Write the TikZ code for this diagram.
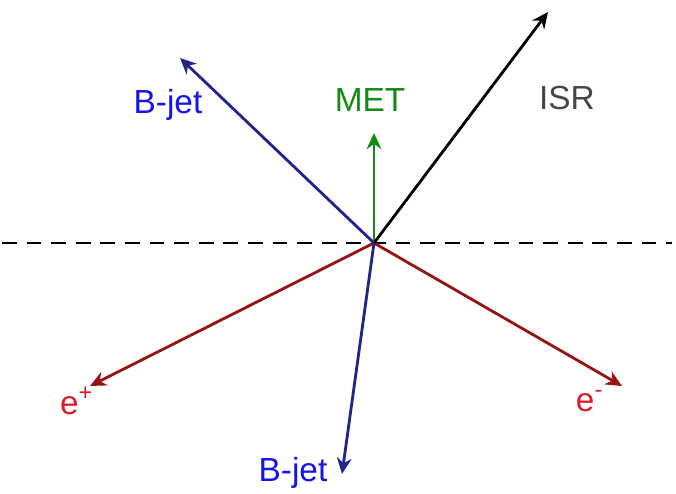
\documentclass[tikz,border=0pt]{standalone}
\usepackage{fontspec}
\setmainfont{Liberation Sans}
\usetikzlibrary{arrows.meta}

\definecolor{jetblue}{RGB}{35,35,140}
\definecolor{jettext}{RGB}{20,20,235}
\definecolor{metgreen}{RGB}{20,140,20}
\definecolor{lepred}{RGB}{150,20,20}
\definecolor{leptext}{RGB}{215,30,40}
\definecolor{isrgray}{RGB}{70,70,70}

\begin{document}
\begin{tikzpicture}[
        >={Stealth[length=4.6pt,width=4.2pt]},
        every node/.style={font=\fontsize{9.5}{11}\selectfont, inner sep=1pt},
        vec/.style={->, line width=0.8pt},
        axis/.style={dashed, dash pattern=on 4.2pt off 2.8pt, line width=0.8pt}
    ]
        \useasboundingbox (0,0) rectangle (6.76,4.94);

        % Punti
        \coordinate (o) at (3.74,2.51);
        \coordinate (left) at (0.02,2.51);
        \coordinate (right) at (6.72,2.51);
        \coordinate (isr) at (5.48,4.82);
        \coordinate (bjet1) at (1.80,4.36);
        \coordinate (met) at (3.74,3.61);
        \coordinate (ep) at (0.90,1.08);
        \coordinate (em) at (6.22,1.08);
        \coordinate (bjet2) at (3.42,0.20);

        % Etichette
        \node [text=jettext] (lb1) at (1.68,3.89) {B-jet};
        \node [text=metgreen] (lmet) at (3.70,3.94) {MET};
        \node [text=isrgray] (lisr) at (5.67,3.96) {ISR};
        \node [text=leptext] (lep) at (0.77,0.93) {e\textsuperscript{+}};
        \node [text=leptext] (lem) at (5.90,0.93) {e\textsuperscript{-}};
        \node [text=jettext] (lb2) at (2.93,0.21) {B-jet};

        % Asse
        \draw [axis] (left) -- (right);

        % Vettori
        \draw [vec, lepred] (o) -- (ep);
        \draw [vec, lepred] (o) -- (em);
        \draw [vec, jetblue] (o) -- (bjet2);
        \draw [vec, metgreen] (o) -- (met);
        \draw [vec, black] (o) -- (isr);
        \draw [vec, jetblue] (o) -- (bjet1);
    \end{tikzpicture}
\end{document}
